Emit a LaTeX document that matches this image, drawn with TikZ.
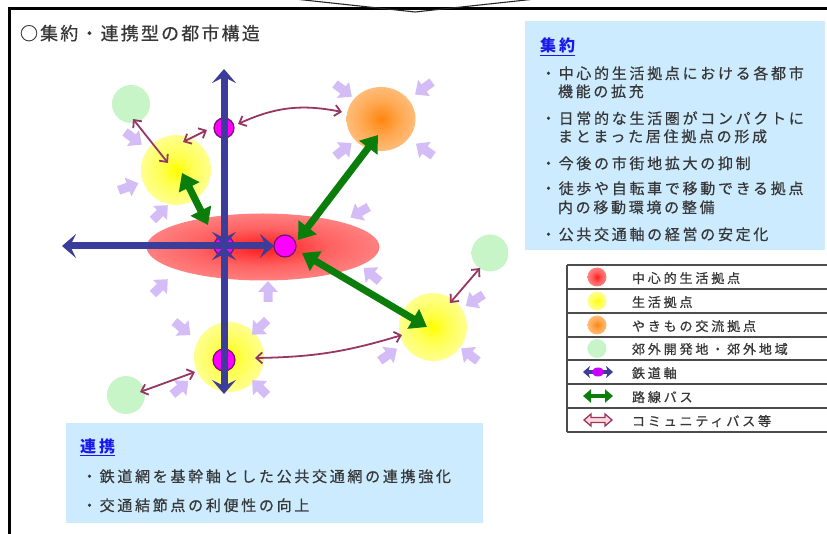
\documentclass[tikz,border=0pt]{standalone}
\usepackage{fontspec}
\usetikzlibrary{arrows.meta,shapes.geometric}
\newfontfamily\jpT{Noto Sans CJK JP}[LetterSpace=12,FakeBold=0.5]
\newfontfamily\jpM{Noto Sans CJK JP}[LetterSpace=18,FakeBold=0.5]
\newfontfamily\jpS{Noto Sans CJK JP}[LetterSpace=22,FakeBold=0.8]
\newfontfamily\jpH{Noto Sans CJK JP}[LetterSpace=20]
\definecolor{boxblue}{RGB}{204,235,255}
\definecolor{txt}{RGB}{55,55,55}
\definecolor{hdr}{RGB}{25,25,235}
\definecolor{axisblue}{RGB}{60,60,155}
\definecolor{busgreen}{RGB}{10,125,10}
\definecolor{commu}{RGB}{150,55,100}
\definecolor{lav}{RGB}{212,188,246}
\definecolor{mag}{RGB}{255,0,255}
\definecolor{magd}{RGB}{110,20,110}
\definecolor{lgreen}{RGB}{200,245,200}
\pgfdeclareradialshading{redhub}{\pgfpoint{0bp}{0bp}}{color(0bp)=(red!90); color(14bp)=(red!62); color(32bp)=(red!42); color(45bp)=(red!38); color(50bp)=(red!16)}
\pgfdeclareradialshading{yellowhub}{\pgfpoint{0bp}{0bp}}{color(0bp)=(yellow); color(10bp)=(yellow!70); color(28bp)=(yellow!38); color(44bp)=(yellow!32); color(50bp)=(yellow!10)}
\pgfdeclareradialshading{orangehub}{\pgfpoint{0bp}{0bp}}{color(0bp)=(orange!95); color(14bp)=(orange!68); color(30bp)=(orange!46); color(44bp)=(orange!40); color(50bp)=(orange!14)}
\pgfdeclareradialshading{greenhub}{\pgfpoint{0bp}{0bp}}{color(0bp)=(lgreen); color(42bp)=(lgreen); color(50bp)=(lgreen!40)}
\tikzset{
  axis/.style={line width=7pt, draw=axisblue},
  axtip/.tip={Stealth[length=14pt,width=24pt,inset=6pt]},
  bustip/.tip={Triangle[length=16pt,width=22pt]},
  comtip/.tip={Straight Barb[length=6pt,width=11pt]},
  bus/.style={line width=7pt, draw=busgreen, {bustip}-{bustip}},
  com/.style={line width=1.8pt, draw=commu, {comtip}-{comtip}},
  magc/.style={circle, fill=mag, draw=magd, line width=1.2pt, minimum size=20pt},
  hub/.style={shade, draw=none},
  lavarr/.pic={\fill[lav] (-10,-4.5) -- (0,-4.5) -- (0,-10) -- (11,0) -- (0,10) -- (0,4.5) -- (-10,4.5) -- cycle;},
  bodytxt/.style={anchor=base west, text=txt, font=\jpM\fontsize{15}{18}\selectfont},
  legtxt/.style={anchor=base west, text=txt, font=\jpS\fontsize{13}{15}\selectfont},
  hdrtxt/.style={anchor=base west, text=hdr, font=\jpH\bfseries\fontsize{16}{18}\selectfont},
  legline/.style={draw=black!70, line width=1.2pt}
}
\begin{document}
\begin{tikzpicture}[x=1pt,y=-1pt, every node/.style={inner sep=0pt, outer sep=0pt}]
\useasboundingbox (0,0) rectangle (827,534);
% frame
\draw[line width=3pt] (9.5,540) -- (9.5,8.5) -- (835,8.5);
\draw[line width=1.1pt, black!85] (290,-1.5) -- (415,12) -- (540,-1.5);
% boxes
\fill[boxblue] (525,21) rectangle (825,250);
\fill[boxblue] (66,423) rectangle (483,523);
% title
\node[anchor=base west, text=txt, font=\jpT\fontsize{18}{20}\selectfont] (title) at (20,40) {○集約・連携型の都市構造};
% right box text
\node[hdrtxt] (h1) at (540,52) {\underline{集約}};
\node[bodytxt] (t1) at (541,79) {・中心的生活拠点における各都市};
\node[bodytxt] (t2) at (558,97) {機能の拡充};
\node[bodytxt] (t3) at (541,124) {・日常的な生活圏がコンパクトに};
\node[bodytxt] (t4) at (558,142) {まとまった居住拠点の形成};
\node[bodytxt] (t5) at (541,169) {・今後の市街地拡大の抑制};
\node[bodytxt] (t6) at (541,194) {・徒歩や自転車で移動できる拠点};
\node[bodytxt] (t7) at (558,213) {内の移動環境の整備};
\node[bodytxt] (t8) at (541,240) {・公共交通軸の経営の安定化};
% bottom box text
\node[hdrtxt] (h2) at (80,452) {\underline{連携}};
\node[bodytxt] (u1) at (82,482) {・鉄道網を基幹軸とした公共交通網の連携強化};
\node[bodytxt] (u2) at (82,511) {・交通結節点の利便性の向上};
% legend
\foreach \yy in {265,289,313,337,360,384,408,432} {\draw[legline] (567,\yy) -- (830,\yy);}
\draw[legline] (567,265) -- (567,432);
\node[hub, shading=redhub, circle, minimum size=19pt] (lr) at (597,277) {};
\node[hub, shading=yellowhub, circle, minimum size=19pt] (ly) at (597,301) {};
\node[hub, shading=orangehub, circle, minimum size=19pt] (lo) at (597,325) {};
\node[hub, shading=greenhub, circle, minimum size=19pt] (lg) at (597,348.5) {};
\coordinate (la1) at (583,372); \coordinate (la2) at (613,372);
\draw[line width=4.5pt, axisblue, {Stealth[length=7pt,width=12pt,inset=2pt]}-{Stealth[length=7pt,width=12pt,inset=2pt]}] (la1) -- (la2);
\node[ellipse, fill=mag!80!blue, minimum width=12pt, minimum height=9pt] (lm) at (598,372) {};
\coordinate (lb1) at (583,396); \coordinate (lb2) at (613,396);
\draw[line width=4.5pt, busgreen, {Triangle[length=8pt,width=13pt]}-{Triangle[length=8pt,width=13pt]}] (lb1) -- (lb2);
\draw[commu, fill=pink!60, line width=1.3pt] (584,420) -- (591,414) -- (591,417.5) -- (605,417.5) -- (605,414) -- (612,420) -- (605,426) -- (605,422.5) -- (591,422.5) -- (591,426) -- cycle;
\node[legtxt] (l1) at (632,283) {中心的生活拠点};
\node[legtxt] (l2) at (632,307) {生活拠点};
\node[legtxt] (l3) at (632,331) {やきもの交流拠点};
\node[legtxt] (l4) at (632,354) {郊外開発地・郊外地域};
\node[legtxt] (l5) at (632,378) {鉄道軸};
\node[legtxt] (l6) at (632,402) {路線バス};
\node[legtxt] (l7) at (632,426) {コミュニティバス等};
% hubs
\node[hub, shading=redhub, ellipse, minimum width=233pt, minimum height=67pt] (ctr) at (263,247) {};
\node[hub, shading=yellowhub, circle, minimum size=70pt] (y1) at (176,170) {};
\node[hub, shading=yellowhub, circle, minimum size=70pt] (y2) at (229,357) {};
\node[hub, shading=yellowhub, circle, minimum size=68pt] (y3) at (433,327) {};
\node[hub, shading=orangehub, ellipse, minimum width=69pt, minimum height=64pt] (o1) at (381,119) {};
\node[hub, shading=greenhub, circle, minimum size=38pt] (g1) at (131,104) {};
\node[hub, shading=greenhub, circle, minimum size=37pt] (g2) at (490,253) {};
\node[hub, shading=greenhub, circle, minimum size=38pt] (g3) at (126,395) {};
% lavender arrows
\pic[rotate=-37] at (133,138) {lavarr};
\pic[rotate=20] at (128,187) {lavarr};
\pic[rotate=45] at (160,213) {lavarr};
\pic[rotate=-37] at (343,90) {lavarr};
\pic[rotate=-144] at (424,88) {lavarr};
\pic[rotate=39] at (343,150) {lavarr};
\pic[rotate=145] at (425,150) {lavarr};
\pic[rotate=-150] at (360,212) {lavarr};
\pic[rotate=45] at (160,287) {lavarr};
\pic[rotate=90] at (268,292) {lavarr};
\pic[rotate=-40] at (182,328) {lavarr};
\pic[rotate=-136] at (260,327) {lavarr};
\pic[rotate=40] at (180,388) {lavarr};
\pic[rotate=135] at (260,388) {lavarr};
\pic[rotate=140] at (372,275) {lavarr};
\pic[rotate=-147] at (475,300) {lavarr};
\pic[rotate=35] at (388,355) {lavarr};
\pic[rotate=143] at (470,355) {lavarr};
% stations
\node[magc] (m0) at (224,246) {};
\node[magc] (m1) at (224,128) {};
\node[magc, minimum size=22pt] (m2) at (285,246) {};
\node[magc, minimum size=22pt] (m3) at (224,360) {};
% rail axes
\coordinate (T) at (224,69);
\coordinate (B) at (224,394);
\coordinate (L) at (62,246);
\draw[axis, {axtip}-{axtip}] (m0.center) -- (T);
\draw[axis, {axtip}-{axtip}] (m0.center) -- (B);
\draw[axis, -{axtip}] (m0.center) -- (L);
\draw[axis, -{axtip}] (m0.center) -- (m2.west);
% route bus
\coordinate (b1a) at (182,173); \coordinate (b1b) at (208,225);
\coordinate (b2a) at (378,135); \coordinate (b2b) at (298,240);
\coordinate (b3a) at (302,253); \coordinate (b3b) at (427,327);
\draw[bus] (b1a) -- (b1b);
\draw[bus] (b2a) -- (b2b);
\draw[bus] (b3a) -- (b3b);
% community bus
\coordinate (c1a) at (133,119); \coordinate (c1b) at (168,163);
\coordinate (c2a) at (183,142); \coordinate (c2b) at (207,130);
\coordinate (c3a) at (238,124); \coordinate (c3b) at (342,112);
\coordinate (c4a) at (480,268); \coordinate (c4b) at (450,303);
\coordinate (c5a) at (255,358); \coordinate (c5b) at (402,335);
\coordinate (c6a) at (140,392); \coordinate (c6b) at (195,372);
\draw[com] (c1a) -- (c1b);
\draw[com] (c2a) -- (c2b);
\draw[com] (c3a) to[bend left=18] (c3b);
\draw[com] (c4a) -- (c4b);
\draw[com] (c5a) to[bend right=8] (c5b);
\draw[com] (c6a) -- (c6b);
\end{tikzpicture}
\end{document}
